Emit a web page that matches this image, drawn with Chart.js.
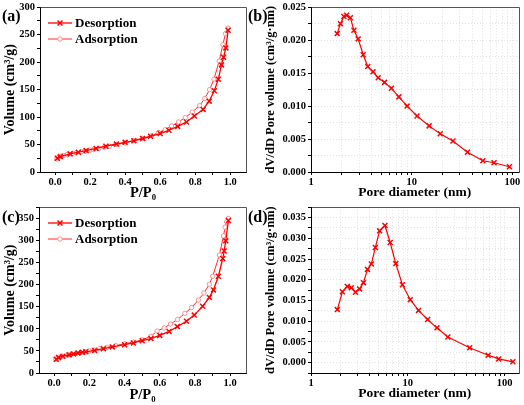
<!DOCTYPE html>
<html>
<head>
<meta charset="utf-8">
<script src="https://cdn.jsdelivr.net/npm/chart.js@4.4.1/dist/chart.umd.min.js"></script>
<style>
  body { margin: 0; background: #fff; }
  #wrap { position: relative; width: 524px; height: 405px; overflow: hidden; }
  canvas { position: absolute; }
  .lab { position: absolute; font: bold 16px "Liberation Serif", serif; line-height: 16px; }
</style>
</head>
<body>
<div id="wrap">
  <canvas id="chartA" width="262" height="200" style="left:0;top:0"></canvas>
  <canvas id="chartB" width="262" height="200" style="left:262px;top:0"></canvas>
  <canvas id="chartC" width="262" height="205" style="left:0;top:200px"></canvas>
  <canvas id="chartD" width="262" height="205" style="left:262px;top:200px"></canvas>
  <div class="lab" style="left:2px;top:8px">(a)</div>
  <div class="lab" style="left:248px;top:8px">(b)</div>
  <div class="lab" style="left:2px;top:209px">(c)</div>
  <div class="lab" style="left:248px;top:209px">(d)</div>
</div>
<script>
// (a) isotherm
const desPA = [0.013, 0.03, 0.086, 0.133, 0.177, 0.234, 0.29, 0.35, 0.40, 0.45, 0.50, 0.545, 0.60, 0.65, 0.70, 0.75, 0.795, 0.845, 0.88, 0.909, 0.932, 0.95, 0.962, 0.975, 0.988];
const desVA = [25, 28, 33, 36, 39, 43, 47, 51, 54, 57, 61, 65, 70, 76, 83, 91, 102, 114, 129, 148, 169, 195, 209, 226, 258];
const adsPA = [0.01, 0.02, 0.035, 0.05, 0.07, 0.1, 0.12, 0.15, 0.17, 0.2, 0.22, 0.25, 0.28, 0.31, 0.35, 0.40, 0.45, 0.50, 0.55, 0.59, 0.629, 0.665, 0.705, 0.743, 0.783, 0.825, 0.855, 0.882, 0.907, 0.937, 0.958, 0.973, 0.987];
const adsVA = [24, 27, 29, 30, 32, 34, 35, 37, 38, 40, 41, 43, 45, 47, 50, 53, 57, 61, 66, 72, 77, 84, 91, 99, 109, 121, 134, 150, 169, 202, 232, 252, 262];

// (b) pore size distribution
const poreB = [1.82, 1.96, 2.12, 2.26, 2.46, 2.67, 2.94, 3.30, 3.66, 4.13, 4.65, 5.37, 6.29, 7.46, 9.0, 11.3, 14.9, 19.2, 25.7, 35.8, 50.9, 65.7, 93.5];
const dvB = [0.0210, 0.0225, 0.0236, 0.0238, 0.0234, 0.0215, 0.0202, 0.0178, 0.0160, 0.0152, 0.0143, 0.0136, 0.0127, 0.0114, 0.0100, 0.0085, 0.0070, 0.0058, 0.0047, 0.0030, 0.0017, 0.0014, 0.0008];

// (c) isotherm
const desPC = [0.012, 0.025, 0.05, 0.085, 0.11, 0.135, 0.16, 0.18, 0.23, 0.28, 0.33, 0.40, 0.45, 0.50, 0.55, 0.60, 0.653, 0.70, 0.752, 0.796, 0.844, 0.882, 0.905, 0.933, 0.958, 0.966, 0.975, 0.99];
const desVC = [31, 35, 38, 41, 43, 45, 47, 48, 51, 55, 59, 64, 68, 73, 78, 85, 94, 105, 117, 131, 151, 171, 188, 219, 259, 276, 299, 345];
const adsPC = [0.01, 0.02, 0.03, 0.05, 0.08, 0.10, 0.13, 0.15, 0.18, 0.20, 0.23, 0.26, 0.30, 0.35, 0.40, 0.45, 0.50, 0.55, 0.585, 0.625, 0.661, 0.701, 0.743, 0.781, 0.819, 0.851, 0.882, 0.901, 0.939, 0.962, 0.971, 0.98, 0.99];
const adsVC = [31, 34, 36, 38, 41, 43, 45, 46, 48, 50, 52, 55, 58, 62, 66, 70, 75, 83, 95, 102, 111, 121, 135, 148, 165, 181, 201, 219, 267, 310, 330, 342, 350];

// (d) pore size distribution
const poreD = [1.87, 2.11, 2.37, 2.61, 2.88, 3.17, 3.48, 3.83, 4.2, 4.62, 5.11, 5.8, 6.57, 7.51, 8.79, 10.6, 12.9, 16.0, 20.0, 25.9, 43.5, 67.6, 86.8, 121.6];
const dvD = [0.0128, 0.0171, 0.0184, 0.0181, 0.0170, 0.0178, 0.0193, 0.0225, 0.0238, 0.0278, 0.0318, 0.0331, 0.0290, 0.0239, 0.0188, 0.0152, 0.0126, 0.0104, 0.0084, 0.0062, 0.0036, 0.0018, 0.0009, 0.0002];

// tick positions
const isoXTicks = [0, 0.1, 0.2, 0.3, 0.4, 0.5, 0.6, 0.7, 0.8, 0.9, 1.0];
const isoYTicksA = [0, 25, 50, 75, 100, 125, 150, 175, 200, 225, 250, 275, 300];
const isoYTicksC = [0, 25, 50, 75, 100, 125, 150, 175, 200, 225, 250, 275, 300, 325, 350, 375];
const logTicks = [1, 2, 3, 4, 5, 6, 7, 8, 9, 10, 20, 30, 40, 50, 60, 70, 80, 90, 100];
const psdYTicksB = [0, 0.0025, 0.005, 0.0075, 0.01, 0.0125, 0.015, 0.0175, 0.02, 0.0225, 0.025];
const psdYTicksD = [-0.0025, 0, 0.0025, 0.005, 0.0075, 0.01, 0.0125, 0.015, 0.0175, 0.02, 0.0225, 0.025, 0.0275, 0.03, 0.0325, 0.035, 0.0375];

const RED = "#ff0000";
const SERIF = "'Liberation Serif', 'Times New Roman', serif";

const toXY = (xs, ys) => xs.map((x, i) => ({ x: x, y: ys[i] }));
const onStep = (v, s) => Math.abs(v / s - Math.round(v / s)) < 1e-6;

// box round the plot area
const framePlugin = {
  id: "frame",
  afterDraw(chart) {
    const a = chart.chartArea;
    const ctx = chart.ctx;
    const l = Math.round(a.left) + 0.5, t = Math.round(a.top) + 0.5;
    const r = Math.round(a.right) + 0.5, b = Math.round(a.bottom) + 0.5;
    ctx.save();
    ctx.lineWidth = 1;
    ctx.strokeStyle = "#555";
    ctx.beginPath();
    ctx.moveTo(l, t); ctx.lineTo(r, t); ctx.lineTo(r, b);
    ctx.stroke();
    ctx.strokeStyle = "#000";
    ctx.beginPath();
    ctx.moveTo(l, t); ctx.lineTo(l, b); ctx.lineTo(r, b);
    ctx.stroke();
    ctx.restore();
  },
};

// legend drawn inside the plot
const inLegendPlugin = {
  id: "inlegend",
  afterDraw(chart, args, opts) {
    if (!opts.show) return;
    const ctx = chart.ctx;
    ctx.save();
    chart.data.datasets.forEach((ds, i) => {
      const y = opts.y + i * 16;
      ctx.strokeStyle = ds.borderColor;
      ctx.lineWidth = ds.borderWidth;
      ctx.beginPath();
      ctx.moveTo(opts.x, y);
      ctx.lineTo(opts.x + 24, y);
      ctx.stroke();
      ctx.strokeStyle = ds.pointBorderColor;
      ctx.fillStyle = ds.pointBackgroundColor;
      ctx.lineWidth = ds.pointBorderWidth;
      Chart.helpers.drawPoint(ctx, { pointStyle: ds.pointStyle, radius: ds.pointRadius, borderWidth: ds.pointBorderWidth }, opts.x + 12, y);
      ctx.fillStyle = "#000";
      ctx.font = "bold 13px " + SERIF;
      ctx.textBaseline = "middle";
      ctx.fillText(ds.label, opts.x + 27, y + 1);
    });
    ctx.restore();
  },
};

function isoChart(id, desP, desV, adsP, adsV, yTicks, yMax, xTitleLift) {
  new Chart(document.getElementById(id), {
    type: "scatter",
    data: {
      datasets: [
        {
          label: "Desorption",
          data: toXY(desP, desV),
          showLine: true,
          borderColor: RED,
          borderWidth: 1.3,
          pointStyle: "crossRot",
          pointRadius: 3.5,
          pointBorderWidth: 1.5,
          pointBorderColor: RED,
          pointBackgroundColor: RED,
        },
        {
          label: "Adsorption",
          data: toXY(adsP, adsV),
          showLine: true,
          borderColor: "#ff2a2a",
          borderWidth: 1,
          pointStyle: "circle",
          pointRadius: 2.2,
          pointBorderWidth: 1,
          pointBorderColor: "#ff8c8c",
          pointBackgroundColor: "#fff",
        },
      ],
    },
    options: {
      responsive: false,
      animation: false,
      layout: { padding: { top: 5, right: 16, left: 0, bottom: 0 } },
      plugins: {
        legend: { display: false },
        tooltip: { enabled: false },
        inlegend: { show: true, x: 48, y: 23 },
      },
      scales: {
        x: {
          type: "linear",
          min: -0.086,
          max: 1.09,
          afterBuildTicks: (s) => { s.ticks = isoXTicks.map((v) => ({ value: v })); },
          afterFit: (s) => { s.height = id === "chartA" ? 28 : 32; },
          grid: { drawOnChartArea: false, tickLength: 3, tickColor: "#000" },
          border: { color: "#000" },
          ticks: {
            autoSkip: false,
            maxRotation: 0,
            padding: 2,
            color: "#000",
            font: { family: SERIF, size: 10.5, weight: "bold", lineHeight: 1 },
            callback: (v) => (onStep(v, 0.2) ? v.toFixed(1) : ""),
          },
          title: {
            display: true,
            text: "P/P₀",
            color: "#000",
            font: { family: SERIF, size: 14.5, weight: "bold", lineHeight: 1 },
            padding: { top: 0, bottom: xTitleLift },
          },
        },
        y: {
          min: 0,
          max: yMax,
          afterBuildTicks: (s) => { s.ticks = yTicks.map((v) => ({ value: v })); },
          afterFit: (s) => { s.width = id === "chartA" ? 40 : 39; },
          grid: { drawOnChartArea: false, tickLength: 3, tickColor: "#000" },
          border: { color: "#000" },
          ticks: {
            autoSkip: false,
            padding: 2,
            color: "#000",
            font: { family: SERIF, size: 10.5, weight: "bold", lineHeight: 1 },
            callback: (v) => (onStep(v, 50) ? String(v) : ""),
          },
          title: {
            display: true,
            text: "Volume (cm³/g)",
            color: "#000",
            font: { family: SERIF, size: 14, weight: "bold", lineHeight: 1 },
            padding: { top: 3, bottom: 0 },
          },
        },
      },
    },
    plugins: [framePlugin, inLegendPlugin],
  });
}

function psdChart(id, pore, dv, xMax, yTicks, yMin, yMax, rightPad, xHeight, xTitleLift) {
  new Chart(document.getElementById(id), {
    type: "scatter",
    data: {
      datasets: [
        {
          label: "PSD",
          data: toXY(pore, dv),
          showLine: true,
          borderColor: RED,
          borderWidth: 1.2,
          pointStyle: "crossRot",
          pointRadius: 3.5,
          pointBorderWidth: 1.5,
          pointBorderColor: RED,
          pointBackgroundColor: RED,
        },
      ],
    },
    options: {
      responsive: false,
      animation: false,
      layout: { padding: { top: 5, right: rightPad, left: 0, bottom: 0 } },
      plugins: { legend: { display: false }, tooltip: { enabled: false }, inlegend: { show: false } },
      scales: {
        x: {
          type: "logarithmic",
          min: 1,
          max: xMax,
          afterBuildTicks: (s) => { s.ticks = logTicks.filter((v) => v <= xMax).map((v) => ({ value: v })); },
          afterFit: (s) => { s.height = xHeight; },
          grid: { color: "#e2e2e2", tickLength: 3, tickColor: "#000" },
          border: { color: "#000", dash: [1, 2] },
          ticks: {
            autoSkip: false,
            maxRotation: 0,
            padding: 2,
            color: "#000",
            font: { family: SERIF, size: 10.5, weight: "bold", lineHeight: 1 },
            callback: (v) => ([1, 10, 100].includes(v) ? String(v) : ""),
          },
          title: {
            display: true,
            text: "Pore diameter (nm)",
            color: "#000",
            font: { family: SERIF, size: 13.5, weight: "bold", lineHeight: 1 },
            padding: { top: 0, bottom: xTitleLift },
          },
        },
        y: {
          min: yMin,
          max: yMax,
          afterBuildTicks: (s) => { s.ticks = yTicks.map((v) => ({ value: v })); },
          afterFit: (s) => { s.width = 49; },
          grid: { color: "#e2e2e2", tickLength: 3, tickColor: "#000" },
          border: { color: "#000", dash: [1, 2] },
          ticks: {
            autoSkip: false,
            padding: 2,
            color: "#000",
            font: { family: SERIF, size: 10.5, weight: "bold", lineHeight: 1 },
            callback: (v) => (onStep(v, 0.005) ? Math.abs(v).toFixed(3) : ""),
          },
          title: {
            display: true,
            text: "dV/dD Pore volume (cm³/g·nm)",
            color: "#000",
            font: { family: SERIF, size: 12.5, weight: "bold", lineHeight: 1 },
            padding: { top: 3, bottom: 0 },
          },
        },
      },
    },
    plugins: [framePlugin],
  });
}

isoChart("chartA", desPA, desVA, adsPA, adsVA, isoYTicksA, 300, 0);
psdChart("chartB", poreB, dvB, 115, psdYTicksB, 0, 0.025, 2, 28, 1);
isoChart("chartC", desPC, desVC, adsPC, adsVC, isoYTicksC, 375, 3);
psdChart("chartD", poreD, dvD, 139, psdYTicksD, -0.0025, 0.0375, 3, 32, 5);
</script>
</body>
</html>
